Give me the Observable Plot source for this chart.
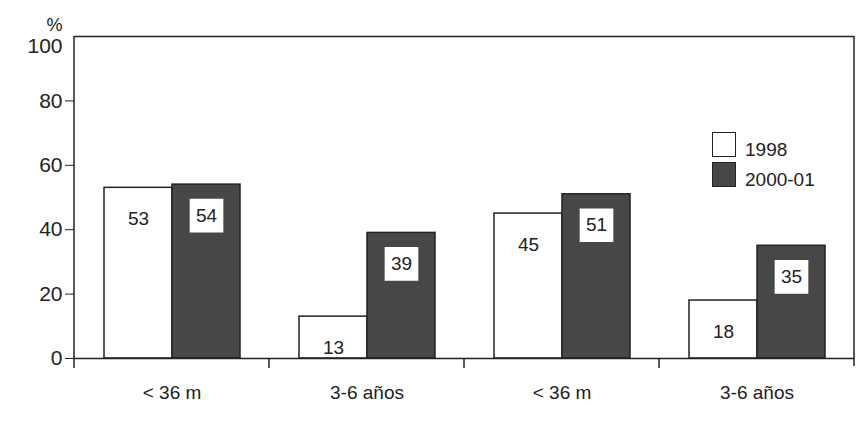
<!DOCTYPE html>
<html>
<head>
<meta charset="utf-8">
<script src="https://cdn.jsdelivr.net/npm/d3@7"></script>
<script src="https://cdn.jsdelivr.net/npm/@observablehq/plot@0.6"></script>
<style>
  body { margin: 0; background: white; }
  #wrap { position: relative; width: 865px; height: 423px; font-family: "Liberation Sans", Arial, sans-serif; }
  #legend { position: absolute; left: 712px; top: 127px; font-size: 19px; color: #222; }
  .row { display: flex; align-items: flex-end; height: 30px; }
  .sw { width: 22px; height: 23px; border: 1.5px solid #222; margin-right: 9px; box-sizing: content-box; }
  .lab { position: relative; top: 4px; }
</style>
</head>
<body>
<div id="wrap"></div>
<script>
const groups = ["g1", "g2", "g3", "g4"];
const groupLabels = ["< 36 m", "3-6 años", "< 36 m", "3-6 años"];
const series = ["1998", "2000-01"];
const values1998 = [53, 13, 45, 18];
const values2000 = [54, 39, 51, 35];
const yTicks = [0, 20, 40, 60, 80];
const yTopTick = [100];
const seriesColors = ["white", "#474747"];

const data = groups.flatMap((g, i) => [
  {g, s: series[0], v: values1998[i]},
  {g, s: series[1], v: values2000[i]}
]);
const labelOf = g => groupLabels[groups.indexOf(g)];

const chart = Plot.plot({
  width: 865,
  height: 423,
  marginLeft: 72,
  marginRight: 10,
  marginTop: 36,
  marginBottom: 65,
  style: {fontFamily: "Liberation Sans, Arial, sans-serif", fontSize: "19px", background: "white", color: "#222"},
  fx: {domain: groups, padding: 0, axis: null},
  x: {domain: series, paddingInner: 0, paddingOuter: 0.42, axis: null},
  y: {domain: [0, 100], axis: null},
  color: {domain: series, range: seriesColors},
  marks: [
    Plot.barY(data, {fx: "g", x: "s", y: "v", fill: "s", stroke: "#222", strokeWidth: 1.5}),
    Plot.dot(data.filter(d => d.s === series[1]), {fx: "g", x: "s", y: "v", dy: 31, symbol: "square", r: 19, fill: "white"}),
    Plot.text(data, {fx: "g", x: "s", y: "v", text: "v", dy: 31, fill: "#222", fontSize: 19}),
    Plot.ruleY([0, 100], {stroke: "#222", strokeWidth: 1.5}),
    Plot.axisY({ticks: yTicks, tickSize: 9, tickPadding: 3, label: null, fontSize: 21, stroke: "#222"}),
    Plot.axisY({ticks: yTopTick, tickSize: 0, tickPadding: 12, dy: 10, label: null, fontSize: 21}),
    Plot.axisFx({anchor: "bottom", tickSize: 0, tickPadding: 27, tickFormat: labelOf, label: null, fontSize: 19}),
    Plot.text(["%"], {fx: () => "g1", frameAnchor: "top-left", textAnchor: "middle", dx: -20, dy: -18, fontSize: 18, fill: "#222"})
  ]
});

// outer frame verticals and group-boundary ticks, placed from the scales
const fx = chart.scale("fx");
const y = chart.scale("y");
const y0 = y.apply(0), y100 = y.apply(100);
const left = fx.apply(groups[0]);
const right = fx.apply(groups[groups.length - 1]) + fx.bandwidth;
const g = d3.select(chart).append("g").attr("stroke", "#222").attr("stroke-width", 1.5);
g.append("line").attr("x1", left).attr("x2", left).attr("y1", y100).attr("y2", y0 + 10);
g.append("line").attr("x1", right).attr("x2", right).attr("y1", y100).attr("y2", y0 + 8);
groups.slice(1).forEach(k => {
  const x = fx.apply(k);
  g.append("line").attr("x1", x).attr("x2", x).attr("y1", y0).attr("y2", y0 + 10);
});

const wrap = document.getElementById("wrap");
wrap.appendChild(chart);

const legend = document.createElement("div");
legend.id = "legend";
series.forEach((s, i) => {
  const row = document.createElement("div");
  row.className = "row";
  const sw = document.createElement("div");
  sw.className = "sw";
  sw.style.background = seriesColors[i];
  const lab = document.createElement("span");
  lab.className = "lab";
  lab.textContent = s;
  row.appendChild(sw);
  row.appendChild(lab);
  legend.appendChild(row);
});
wrap.appendChild(legend);
</script>
</body>
</html>
